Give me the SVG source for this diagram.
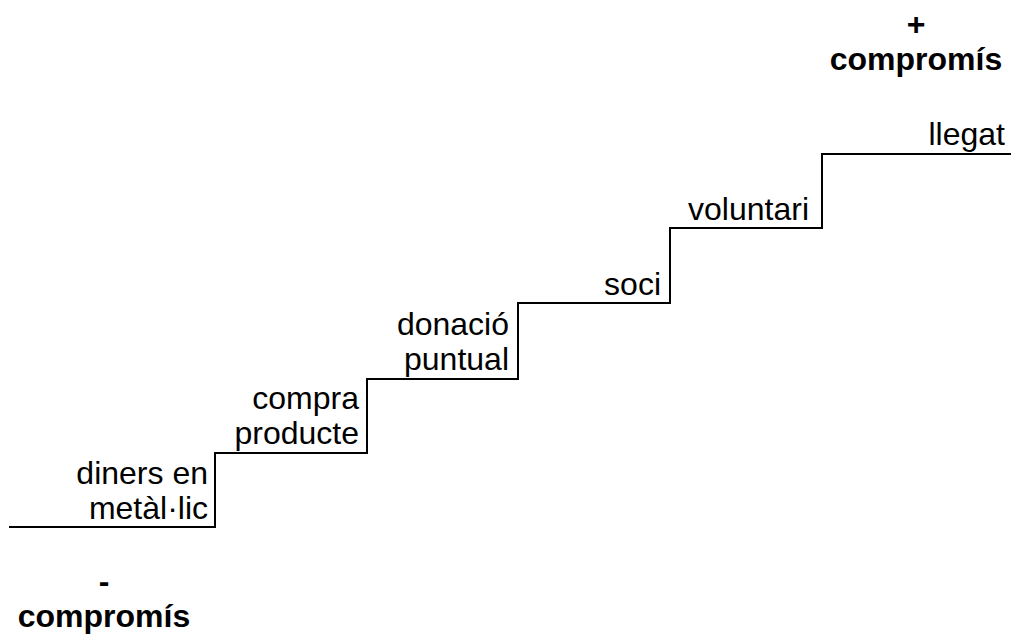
<svg xmlns="http://www.w3.org/2000/svg" width="1011" height="635" viewBox="0 0 1011 635">
<style>
.lbl{font-family:"Liberation Sans",Arial,sans-serif;font-size:32px;fill:#000;text-anchor:end}
.ttl{font-family:"Liberation Sans",Arial,sans-serif;font-size:32px;font-weight:bold;fill:#000;text-anchor:middle}
.stair{fill:none;stroke:#000;stroke-width:2}
</style>
<rect width="1011" height="635" fill="#fff"/>
<g id="connectors">
<path class="stair" d="M9,527 H215 V453 H367 V379 H518 V303 H670 V228 H822 V154 H1011"/>
</g>
<g id="step1"><text class="lbl" x="208" y="484">diners en</text><text class="lbl" x="208" y="519">metàl·lic</text></g>
<g id="step2"><text class="lbl" x="359" y="409">compra</text><text class="lbl" x="359" y="444">producte</text></g>
<g id="step3"><text class="lbl" x="509" y="335">donació</text><text class="lbl" x="509" y="370">puntual</text></g>
<g id="step4"><text class="lbl" x="661" y="295">soci</text></g>
<g id="step5"><text class="lbl" x="809" y="220">voluntari</text></g>
<g id="step6"><text class="lbl" x="1005" y="145">llegat</text></g>
<g id="top-label"><text class="ttl" x="916" y="35">+</text><text class="ttl" x="916" y="70">compromís</text></g>
<g id="bottom-label"><text class="ttl" x="104" y="592">-</text><text class="ttl" x="104" y="627">compromís</text></g>
</svg>
